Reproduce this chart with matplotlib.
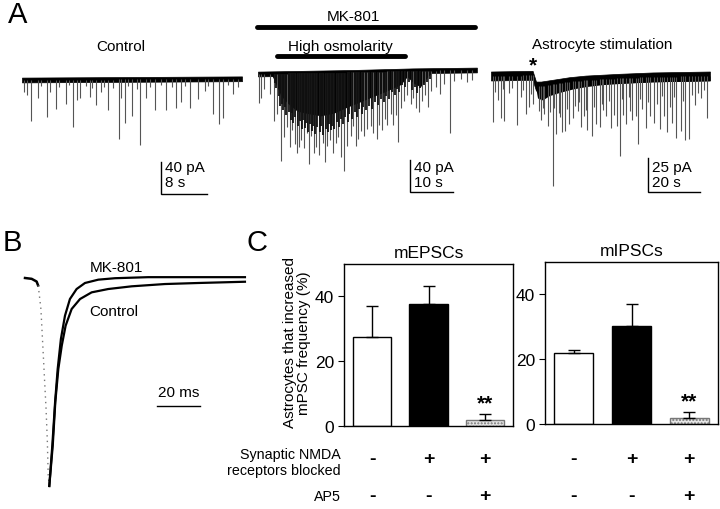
import matplotlib
matplotlib.use("Agg")
import matplotlib.pyplot as plt
import numpy as np
from matplotlib.transforms import blended_transform_factory

plt.rcParams['font.family'] = ['Liberation Sans', 'DejaVu Sans']

# ---------------- DATA ----------------
# Panel A, Control trace: event times (s) and amplitudes (pA, downward)
ctrl_t = [0.35, 0.92, 1.5, 2.7, 4.4, 4.8, 5.9, 7.7, 8.9, 9.6, 10.0, 11.9, 12.8, 13.8, 15.0,
          16.8, 17.2, 17.9, 19.1, 20.5, 21.6, 23.1, 25.0, 26.8, 27.7, 29.2, 30.6, 31.8, 33.2,
          34.2, 35.0, 36.7,
          3.3, 6.5, 8.2, 11.2, 12.2, 14.3, 15.8, 18.5, 20.0, 22.3, 24.2, 26.0, 28.4, 32.4, 35.8, 37.5]
ctrl_a = [15, 19, 51, 22, 46, 15, 36, 30, 59, 25, 23, 22, 32, 15, 38,
          75, 23, 54, 46, 82, 23, 38, 38, 36, 28, 36, 25, 15, 44,
          56, 49, 19,
          8, 9, 7, 8, 10, 9, 10, 8, 12, 9, 7, 10, 8, 9, 8, 10]
ctrl_base_t = [0, 38.26]
ctrl_base_v = [0, 1.5]

# Panel A, MK-801 / high osmolarity trace: isolated (large) events
mk_t = [0.23, 0.78, 1.4, 2.9, 3.7, 4.5, 5.4, 6.0, 6.8, 7.4, 8.0, 8.5, 9.0, 9.5, 10.1, 10.7,
        11.3, 11.9, 12.4, 13.0, 13.6, 14.2, 15.0, 15.5, 16.1, 16.7, 17.4, 18.1, 18.6, 19.4,
        20.0, 20.6, 21.6, 22.2, 22.7, 23.3, 23.9, 24.7, 25.4, 26.2, 26.8, 27.6, 28.2, 28.8,
        29.5, 30.1, 30.9, 31.5, 32.0, 32.6, 33.2, 34.0, 34.7, 35.5, 36.1, 36.7, 37.4, 38.2,
        38.8, 39.5, 40.3, 41.3, 42.3, 43.3, 44.7, 45.6, 47.1, 48.7, 49.8]
mk_a = [36, 30, 19, 25, 59, 50, 109, 79, 67, 92, 71, 88, 100, 92, 84, 94,
        75, 113, 79, 100, 92, 102, 88, 111, 92, 84, 100, 88, 80, 105,
        123, 92, 80, 67, 92, 84, 73, 80, 71, 67, 77, 84, 67, 73,
        59, 67, 53, 67, 55, 88, 46, 38, 30, 42, 34, 46, 52, 38,
        30, 46, 25, 21, 30, 17, 78, 13, 11, 15, 13]
# dense (overlapping) events of the burst
mk_dense_t = [3.9, 4.2, 4.8, 5.1, 5.6, 5.9, 6.3, 6.6, 7.1, 7.6, 7.8, 8.2, 8.7, 9.2, 9.7, 10.3,
              10.5, 10.9, 11.1, 11.6, 12.1, 12.6, 12.8, 13.3, 13.8, 14.4, 14.7, 15.2, 15.8,
              16.3, 16.5, 16.9, 17.2, 17.7, 18.3, 18.9, 19.2, 19.7, 20.3, 20.9, 21.2, 21.9,
              22.5, 23.0, 23.6, 24.2, 24.4, 25.0, 25.7, 26.5, 27.2, 27.9, 28.5, 29.2, 29.8,
              30.5, 31.2, 31.8, 32.3, 32.9, 33.6, 34.3, 35.0, 35.8, 36.4, 37.0, 37.7, 38.5,
              39.2, 40.0]
mk_dense_a = [12, 18, 28, 40, 38, 45, 42, 52, 48, 58, 50, 62, 55, 66, 60, 70,
              58, 68, 62, 74, 64, 72, 66, 76, 68, 74, 66, 78, 70,
              74, 64, 72, 66, 70, 62, 68, 58, 64, 56, 62, 52, 58,
              50, 56, 46, 52, 44, 48, 42, 46, 38, 42, 34, 38, 30,
              34, 26, 30, 22, 26, 18, 20, 14, 24, 20, 28, 22, 18,
              14, 10]
mk_env_t = [3.0, 3.7, 5.3, 6.8, 9.1, 11.5, 14.6, 17.7, 20.8, 23.9, 27.0, 30.1, 33.2, 34.7,
            36.3, 37.8, 39.4, 40.9]
mk_env_d = [0, 9, 34, 46, 59, 63, 67, 63, 54, 46, 38, 30, 21, 9, 20, 25, 10, 0]
mk_base_t = [0, 22, 36, 50.9]
mk_base_v = [0, 2, 4, 5]

# Panel A, astrocyte stimulation trace
as_t = [0.6, 2.6, 3.8, 5.1, 7.0, 9.9, 11.5, 13.4, 14.5, 16.0,
        19.2, 20.5, 21.8, 23.7, 25.0, 26.0, 27.3, 28.5, 30.1, 31.6, 33.3, 34.6, 35.8, 37.1,
        38.8, 40.3, 41.9, 43.1, 44.4, 46.1, 47.4, 48.3, 49.7, 50.8, 52.1, 53.4, 54.4, 55.7,
        56.7, 58.2, 59.5, 61.1, 62.7, 64.9, 66.6, 67.8, 69.8, 71.3, 72.9, 74.6, 76.2, 78.5,
        80.6, 83.2,
        1.5, 4.5, 8.2, 12.3, 15.3, 18.5, 20.0, 22.7, 24.4, 26.6, 29.3, 32.4, 34.0, 36.5,
        39.6, 42.5, 45.3, 50.2, 53.0, 57.4, 60.3, 63.8, 65.7, 68.8, 70.5, 73.7, 77.4, 79.5, 82.0]
as_a = [34, 18, 31, 33, 13, 36, 16, 28, 23, 21,
        25, 21, 30, 75, 37, 22, 36, 36, 31, 27, 22, 34, 26, 37,
        41, 33, 35, 23, 27, 36, 27, 35, 57, 27, 34, 24, 31, 28,
        49, 23, 37, 29, 34, 38, 29, 41, 34, 45, 40, 47, 46, 21,
        16, 31,
        12, 10, 9, 11, 14, 18, 16, 20, 18, 25, 20, 18, 16, 22,
        20, 18, 16, 15, 14, 16, 18, 20, 14, 22, 15, 18, 14, 12, 10]
as_base_t = [0, 16.0, 17.3, 19.2, 23.7, 30.1, 36.4, 49.3, 62.1, 84.2]
as_base_v = [0, 0.5, -7.4, -7.4, -6.1, -4.2, -3.0, -1.7, -0.7, 0]
as_env_t = [16.8, 17.9, 19.8, 22.4, 26.2, 31.4, 36.5, 42.9, 49.3, 62.1, 84.2]
as_env_d = [0, 11, 13, 10, 8.5, 7, 6, 5, 4.8, 4.5, 4.3]

# Panel B: normalized mEPSC (time ms, amplitude)
pre_t = [0, 3.1, 5.4, 6.1]
pre_v = [0, -0.004, -0.017, -0.036]
rise_t = [6.1, 6.5, 7.4, 8.2, 9.0, 9.8, 10.4, 10.8, 11.3]
rise_v = [-0.036, -0.067, -0.149, -0.308, -0.471, -0.63, -0.788, -0.952, -1.0]
mkB_t = [11.3, 12.7, 14.0, 15.2, 16.7, 18.6, 20.9, 24.0, 27.9, 34.1, 41.9, 57.3, 102.3]
mkB_v = [-1.0, -0.806, -0.596, -0.4375, -0.293, -0.181, -0.101, -0.053, -0.024, -0.008,
         -0.001, 0.004, 0.004]
ctB_t = [11.3, 12.9, 14.1, 15.5, 17.1, 18.9, 21.7, 25.6, 31.0, 38.7, 49.6, 65.1, 80.6, 102.3]
ctB_v = [-1.0, -0.806, -0.596, -0.4375, -0.325, -0.229, -0.149, -0.101, -0.069, -0.053,
         -0.040, -0.029, -0.024, -0.018]

# Panel C
conds = [1, 2, 3]
epsc_mean = [27.5, 37.8, 1.9]
epsc_err = [9.5, 5.4, 1.8]
ipsc_mean = [22.0, 30.2, 1.9]
ipsc_err = [0.8, 6.8, 1.7]
nmda_signs = ['-', '+', '+']
ap5_signs = ['-', '-', '+']
yticks = [0, 20, 40]

# ---------------- FIGURE ----------------
W, H = 720, 510
fig = plt.figure(figsize=(W / 100, H / 100), dpi=100)


def px_axes(x0, x1, y0, y1):
    return fig.add_axes([x0 / W, 1 - y1 / H, (x1 - x0) / W, (y1 - y0) / H])


def trace(x0, x1, ybase, pps, ppa, ev_t, ev_a, bt, bv, half, env_t=None, env_d=None,
          dense_t=None, dense_a=None, bar_x=None, bar_ytop=None, bar_s=None, bar_pa=None):
    ytop, ybot = 55, 205
    ax = px_axes(x0, x1, ytop, ybot)
    ax.set_xlim(0, (x1 - x0) / pps)
    ax.set_ylim(-(ybot - ybase) / ppa, (ybase - ytop) / ppa)
    ax.axis('off')
    ev_t = np.asarray(ev_t, float)
    base = np.interp(ev_t, bt, bv)
    ax.vlines(ev_t, base - np.asarray(ev_a), base, color='#555555', lw=0.8)
    if env_t is not None:
        eb = np.interp(env_t, bt, bv)
        ax.fill_between(env_t, eb - 0.8 * np.asarray(env_d), eb, color='black', lw=0)
    if dense_t is not None:
        db = np.interp(dense_t, bt, bv)
        ax.vlines(dense_t, db - np.asarray(dense_a), db, color='#111111', lw=1.3)
    bb = np.asarray(bv, float)
    ax.fill_between(bt, bb - half, bb + half, color='black', lw=0.5)
    # scale bar (data units)
    sx = (bar_x - x0) / pps
    sy = -(bar_ytop - ybase) / ppa
    ax.plot([sx, sx, sx + bar_s], [sy, sy - bar_pa, sy - bar_pa], color='black', lw=1,
            clip_on=False, solid_joinstyle='miter')
    return ax


trace(22, 242, 81, 5.75, 0.8, ctrl_t, ctrl_a, ctrl_base_t, ctrl_base_v, 3.0,
      bar_x=161, bar_ytop=163, bar_s=8, bar_pa=40)
trace(258, 477, 75, 4.3, 0.8, mk_t, mk_a, mk_base_t, mk_base_v, 3.0, mk_env_t, mk_env_d,
      mk_dense_t, mk_dense_a, bar_x=410, bar_ytop=161, bar_s=10, bar_pa=40)
trace(491, 710, 77, 2.6, 1.36, as_t, as_a, as_base_t, as_base_v, 3.3, as_env_t, as_env_d,
      bar_x=648, bar_ytop=159, bar_s=20, bar_pa=25)

# Panel B
axB = px_axes(20, 250, 262, 495)
axB.set_xlim((20 - 25) / 2.15, (250 - 25) / 2.15)
axB.set_ylim(-(495 - 279) / 208, (279 - 262) / 208)
axB.axis('off')
axB.plot(pre_t, pre_v, color='black', lw=1.8)
axB.plot(rise_t, rise_v, color='#777777', lw=1.0, ls=(0, (1, 3)))
axB.plot(ctB_t, ctB_v, color='black', lw=1.6)
axB.plot(mkB_t, mkB_v, color='black', lw=1.6)
axB.plot([(157 - 25) / 2.15, (157 - 25) / 2.15 + 20], [-(407 - 279) / 208] * 2, color='black', lw=1)
axB.text((157 - 25) / 2.15 + 10, -(400 - 279) / 208, '20 ms', ha='center', va='bottom', fontsize=11)
axB.text((90 - 25) / 2.15, -(268 - 279) / 208, 'MK-801', ha='left', va='center', fontsize=11)
axB.text((89 - 25) / 2.15, -(312 - 279) / 208, 'Control', ha='left', va='center', fontsize=11)

# Panel C
def bar_panel(x0, x1, y0, y1, means, errs, title):
    ax = px_axes(x0, x1, y0, y1)
    cols = ['white', 'black', '#e6e6e6']
    bars = ax.bar(conds, means, width=0.68, color=cols, edgecolor='black', linewidth=1,
                  yerr=[[0] * 3, errs], capsize=4, error_kw=dict(elinewidth=1, capthick=1))
    bars[2].set_hatch('.....')
    bars[2].set_edgecolor('#777777')
    ax.set_xlim(0.5, 3.5)
    ax.set_ylim(0, 50)
    ax.set_yticks(yticks)
    ax.set_xticks([])
    ax.tick_params(axis='y', direction='out', length=4, labelsize=12.5, pad=3)
    for s in ax.spines.values():
        s.set_linewidth(1)
    ax.set_title(title, fontsize=12.5, pad=5)
    ax.text(3, means[2] + errs[2] + 0.6, '**', ha='center', va='bottom', fontsize=15,
            fontweight='bold')
    tr = blended_transform_factory(ax.transData, fig.transFigure)
    for i, c in enumerate(conds):
        ax.text(c, 1 - 460 / H, nmda_signs[i], transform=tr, ha='center', va='center',
                fontsize=14, fontweight='bold')
        ax.text(c, 1 - 497 / H, ap5_signs[i], transform=tr, ha='center', va='center',
                fontsize=14, fontweight='bold')
    return ax


bar_panel(344, 513, 265, 427, epsc_mean, epsc_err, 'mEPSCs')
bar_panel(545, 718, 263, 425, ipsc_mean, ipsc_err, 'mIPSCs')

# Overlay texts (pixel coordinates)
ov = fig.add_axes([0, 0, 1, 1])
ov.set_xlim(0, W)
ov.set_ylim(H, 0)
ov.axis('off')
ov.text(8, 15, 'A', fontsize=21, ha='left', va='center')
ov.text(3, 243, 'B', fontsize=21, ha='left', va='center')
ov.text(247, 243, 'C', fontsize=21, ha='left', va='center')
ov.text(121, 47, 'Control', fontsize=11, ha='center', va='center')
ov.text(353, 17, 'MK-801', fontsize=11, ha='center', va='center')
ov.plot([257, 475], [28, 28], color='black', lw=3.5, solid_capstyle='round')
ov.text(340, 47, 'High osmolarity', fontsize=11, ha='center', va='center')
ov.plot([277, 405], [57, 57], color='black', lw=3.5, solid_capstyle='round')
ov.text(602, 45, 'Astrocyte stimulation', fontsize=11, ha='center', va='center')
ov.text(533, 66, '*', fontsize=15, ha='center', va='center', fontweight='bold')
for x, a, s in [(165, '40 pA', '8 s'), (414, '40 pA', '10 s'), (652, '25 pA', '20 s')]:
    ov.text(x, 168, a, fontsize=11, ha='left', va='center')
    ov.text(x, 183, s, fontsize=11, ha='left', va='center')
ov.text(297, 343, 'Astrocytes that increased\nmPSC frequency (%)', fontsize=11, rotation=90,
        ha='center', va='center', multialignment='center', linespacing=1.0)
ov.text(341, 463, 'Synaptic NMDA\nreceptors blocked', fontsize=10.3, ha='right', va='center',
        multialignment='right', linespacing=1.1)
ov.text(341, 497, 'AP5', fontsize=10.3, ha='right', va='center')

fig.savefig('out.png', dpi=100)
